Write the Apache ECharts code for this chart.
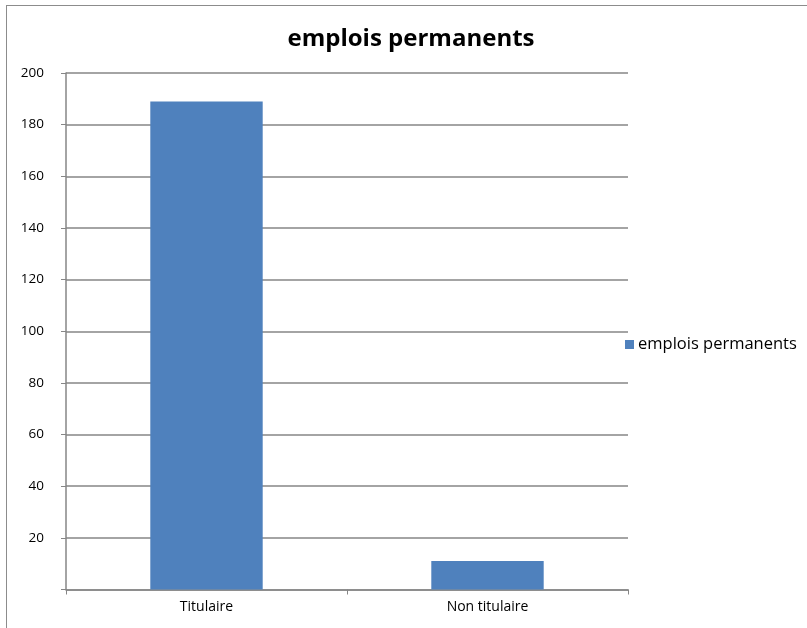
<!DOCTYPE html>
<html>
<head>
<meta charset="utf-8">
<script src="https://cdn.jsdelivr.net/npm/echarts@6/dist/echarts.min.js"></script>
<style>
html,body{margin:0;padding:0;background:#fff;}
#frame{position:absolute;left:6px;top:5px;width:801px;height:623px;border-left:1.5px solid #8c8c8c;border-top:1.5px solid #8c8c8c;box-sizing:border-box;}
#chart{position:absolute;left:0;top:0;width:807px;height:628px;}
</style>
</head>
<body>
<div id="frame"></div>
<div id="chart"></div>
<script>
const categories = ["Titulaire", "Non titulaire"];
const seriesName = "emplois permanents";
const values = [189, 11];
const yTicks = { min: 0, max: 200, interval: 20 };

const chart = echarts.init(document.getElementById('chart'));
const font = 'Open Sans, Liberation Sans, sans-serif';
chart.setOption({
  animation: false,
  backgroundColor: 'transparent',
  title: {
    text: seriesName,
    left: 406, top: 22, textAlign: 'center',
    textStyle: { fontFamily: font, fontWeight: 'bold', fontSize: 24, color: '#000' }
  },
  legend: {
    data: [seriesName],
    left: 620, top: 331,
    icon: 'rect', itemWidth: 9, itemHeight: 9, itemGap: 4,
    textStyle: { fontFamily: font, fontSize: 16.5, color: '#000', padding: [0,0,0,-1] }
  },
  grid: { left: 66, right: 179, top: 73, bottom: 38.5, containLabel: false },
  xAxis: {
    type: 'category',
    data: categories,
    axisLine: { lineStyle: { color: '#868686', width: 1.5 } },
    axisTick: { show: true, alignWithLabel: false, inside: false, length: 5, lineStyle: { color: '#868686' } },
    axisLabel: { fontFamily: font, fontSize: 14, color: '#000', margin: 11 }
  },
  yAxis: {
    type: 'value',
    min: yTicks.min, max: yTicks.max, interval: yTicks.interval,
    axisLine: { show: true, lineStyle: { color: '#868686', width: 1.5 } },
    axisTick: { show: true, length: 5, lineStyle: { color: '#868686' } },
    splitLine: { lineStyle: { color: '#868686', width: 1.5 } },
    axisLabel: { fontFamily: font, fontSize: 13.5, color: '#000', margin: 22,
      formatter: v => v === 0 ? '' : String(v) }
  },
  series: [{
    name: seriesName,
    type: 'bar',
    data: values,
    barWidth: '40%',
    itemStyle: { color: '#4F81BD' }
  }]
});
</script>
</body>
</html>
